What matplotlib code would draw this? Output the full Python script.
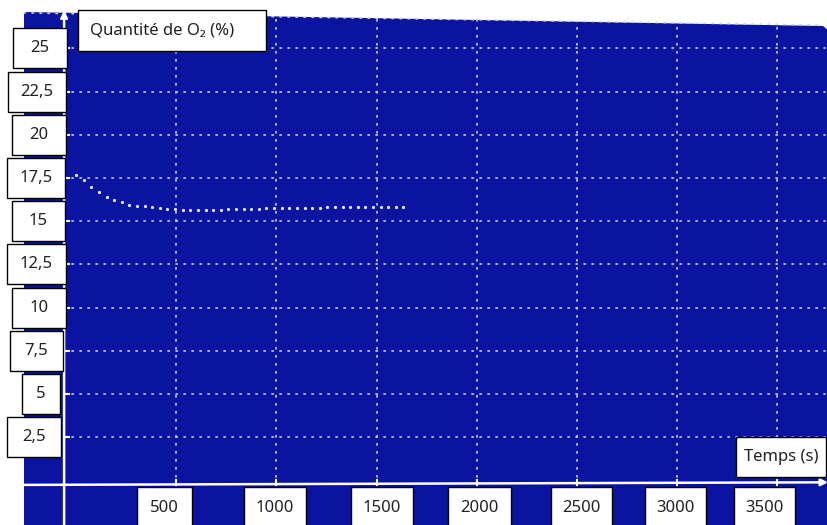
import numpy as np
import matplotlib
matplotlib.use("Agg")
import matplotlib.pyplot as plt
from matplotlib.patches import Rectangle, Polygon

plt.rcParams['font.family'] = ['Noto Sans', 'DejaVu Sans']

# Data (oxygen probe, % O2 vs time)
temps = [0, 38, 76, 114, 152, 190, 228, 266, 304, 342, 380, 418, 456, 494,
         532, 570, 608, 646, 684, 722, 760, 798, 836, 874, 912, 950, 988,
         1026, 1064, 1102, 1140, 1178, 1216, 1254, 1292, 1330, 1368, 1406,
         1444, 1482, 1520, 1558, 1596, 1634]
o2 = [17.69, 17.37, 16.97, 16.68, 16.41, 16.22, 16.11, 15.97, 15.90, 15.86,
      15.80, 15.74, 15.73, 15.70, 15.68, 15.66, 15.66, 15.66, 15.67, 15.68,
      15.69, 15.70, 15.71, 15.72, 15.73, 15.74, 15.75, 15.76, 15.76, 15.77,
      15.78, 15.78, 15.79, 15.80, 15.80, 15.81, 15.82, 15.82, 15.83, 15.83,
      15.84, 15.84, 15.85, 15.85]

x_ticks = [500, 1000, 1500, 2000, 2500, 3000, 3500]
x_labels = ['500', '1000', '1500', '2000', '2500', '3000', '3500']
y_ticks = [25, 22.5, 20, 17.5, 15, 12.5, 10, 7.5, 5, 2.5]
y_labels = ['25', '22,5', '20', '17,5', '15', '12,5', '10', '7,5', '5', '2,5']

W, H = 828, 525
BLUE = '#0b14a0'
DOT = '#e4e9ff'

fig = plt.figure(figsize=(W / 100, H / 100), dpi=100)
fig.patch.set_facecolor('white')
ax = fig.add_axes([0, 0, 1, 1])
ax.set_xlim(-380, 3753)
ax.set_ylim(-2.57, 27.8)
ax.set_facecolor('none')
ax.axis('off')


def fpx(x, y):
    # pixel (from top-left) -> figure fraction
    return (x / W, 1 - y / H)


# screen area (axes fill the figure, so axes fraction == figure fraction)
screen = Polygon([fpx(24, 12), fpx(823, 26), fpx(828, 30), fpx(828, 525), fpx(24, 525)],
                 closed=True, transform=ax.transAxes, fc=BLUE, ec='none', zorder=0)
ax.add_patch(screen)

y_axis_t = -60
x_axis_v = -0.25
top_v = 27.1
grid_kw = dict(color='#c9d1f5', lw=1.2, dashes=(0.8, 4.0), dash_capstyle='round', zorder=2)

# top border dotted
ax.plot([-260, 3730], [27.05, 26.35], **grid_kw)

for v in y_ticks:
    ax.plot([y_axis_t, 3740], [v, v], **grid_kw)
    ax.plot([y_axis_t, y_axis_t + 25], [v, v], color='white', lw=1.5, zorder=3)
for t in x_ticks:
    ax.plot([t, t], [x_axis_v, top_v - t * 0.0002], **grid_kw)
    ax.plot([t, t], [x_axis_v, x_axis_v + 0.3], color='white', lw=1.5, zorder=3)

# axes with arrows
ax.annotate('', xy=(y_axis_t, 27.2), xytext=(y_axis_t, -2.7),
            arrowprops=dict(arrowstyle='-|>', color='white', lw=1.8,
                            mutation_scale=10, shrinkA=0, shrinkB=0), zorder=4)
ax.annotate('', xy=(3753, x_axis_v + 0.15), xytext=(-260, x_axis_v),
            arrowprops=dict(arrowstyle='-|>', color='white', lw=1.8,
                            mutation_scale=10, shrinkA=0, shrinkB=0), zorder=4)

# measurements
ax.plot(temps, o2, 'o', ms=2.3, color=DOT, mec='none', zorder=5)

# label boxes (pixel layout)
y_box_x = [(13, 67), (8, 66), (12, 66), (7, 65), (12, 65), (7, 66), (12, 66), (10, 63), (22, 60), (7, 61)]
x_box_x = [(137, 192), (244, 306), (351, 413), (448, 511), (551, 612), (645, 706), (734, 795)]
box_h = 40


def box(x0, x1, y0, y1, text, tx=None):
    (fx0, fy1) = fpx(x0, y1)
    fig.patches.append(Rectangle((fx0, fy1), (x1 - x0) / W, (y1 - y0) / H,
                                 transform=fig.transFigure, fc='white', ec='black',
                                 lw=1.0, zorder=6))
    cx = (x0 + x1) / 2 if tx is None else tx
    ha = 'center' if tx is None else 'left'
    fig.text(cx / W, 1 - (y0 + y1) / 2 / H, text, ha=ha, va='center',
             fontsize=12, color='#222222', zorder=7)


for v, lab, (x0, x1) in zip(y_ticks, y_labels, y_box_x):
    py = ax.transData.transform((0, v))[1]
    yc = H - py
    box(x0, x1, yc - box_h / 2, yc + box_h / 2, lab)

for t, lab, (x0, x1) in zip(x_ticks, x_labels, x_box_x):
    box(x0, x1, 487, 530, lab)

box(78, 266, 10, 51, 'Quantité de O\u2082 (%)', tx=90)
box(736, 826, 437, 477, 'Temps (s)')

fig.savefig('out.png', dpi=100)
